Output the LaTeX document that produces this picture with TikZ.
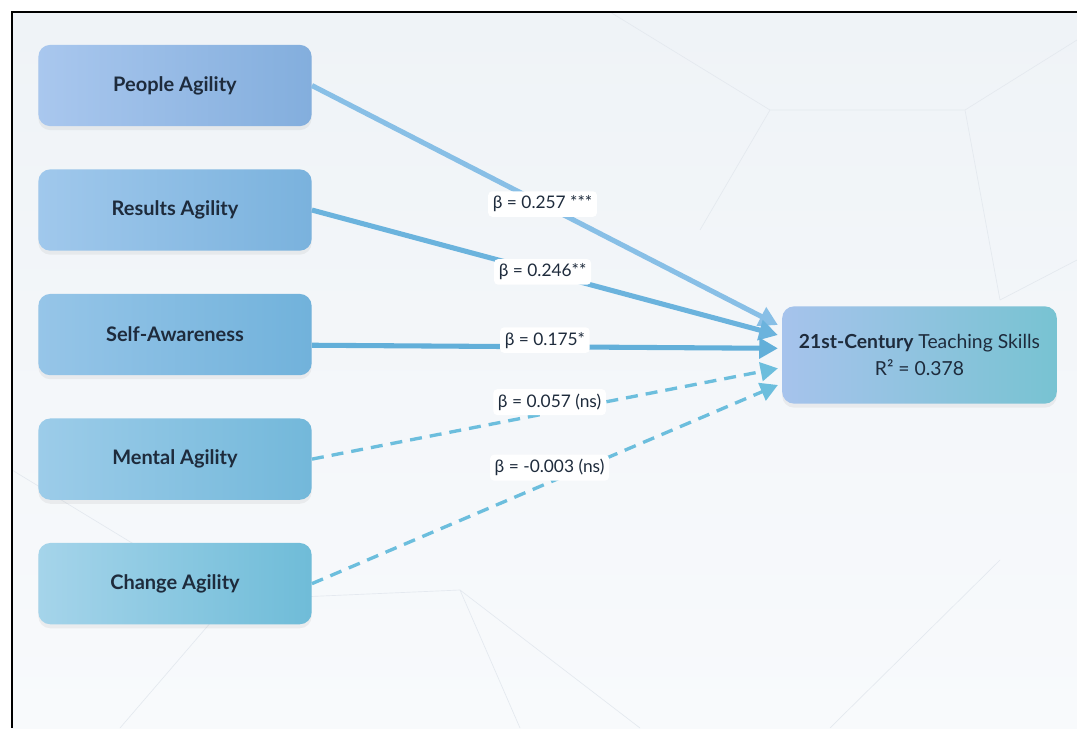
\documentclass[tikz,border=0pt]{standalone}
\usepackage{fontspec}
\setmainfont{Lato}
\usepackage{xcolor}
\usetikzlibrary{arrows.meta,calc,positioning,shadows}
\definecolor{ink}{HTML}{1E2B3C}
\definecolor{edgea}{HTML}{88BFE6}
\definecolor{edgeb}{HTML}{6BB3DD}
\definecolor{edgec}{HTML}{62AFD9}
\definecolor{edgens}{HTML}{6CBEDD}
\definecolor{faint}{HTML}{E4E9EF}
\definecolor{bgtop}{HTML}{EFF3F7}
\definecolor{bgbot}{HTML}{F8FAFC}
\definecolor{paL}{HTML}{A9C7EE}\definecolor{paR}{HTML}{83AEDD}
\definecolor{raL}{HTML}{A0C8EC}\definecolor{raR}{HTML}{7AB2DD}
\definecolor{saL}{HTML}{96C5E8}\definecolor{saR}{HTML}{71B2DB}
\definecolor{maL}{HTML}{9CCCE9}\definecolor{maR}{HTML}{73B8DA}
\definecolor{caL}{HTML}{A5D4EA}\definecolor{caR}{HTML}{6FBCD8}
\definecolor{tgL}{HTML}{A6C3EC}\definecolor{tgR}{HTML}{78C3D2}
\tikzset{%
	factor/.style  = {rectangle, rounded corners=9pt, minimum width=205pt, minimum height=61pt, text=ink,
	                  font=\fontsize{15}{17}\selectfont\bfseries,
	                  drop shadow={opacity=0.10, shadow xshift=0pt, shadow yshift=-3pt}}, % Predictor
	outcome/.style = {factor, minimum width=206pt, minimum height=73pt, align=center,
	                  font=\fontsize{14.5}{20}\selectfont}, % Outcome
	coef/.style    = {fill=white, rounded corners=3pt, inner sep=3.5pt, text=ink,
	                  font=\fontsize{13}{15}\selectfont}, % Beta label
	sig/.style     = {line width=3.8pt, -{Triangle[length=14pt,width=15pt]}}, % Significant path
	nsig/.style    = {draw=edgens, line width=2.5pt, dash pattern=on 9pt off 6pt, -{Triangle[length=13pt,width=14pt]}}, % ns path
}

\begin{document}
\begin{tikzpicture}[x=0.75pt, y=-0.75pt, node distance=93.4pt]
	\useasboundingbox (0,0) rectangle (1077,728);
	% background and frame
	\shade[top color=bgtop, bottom color=bgbot] (12,12) rectangle (1077,728);
	\draw[faint, line width=0.5pt] (610,12) -- (770,110) -- (965,110) -- (1077,40)
		(965,110) -- (1000,300) (770,110) -- (700,230) (1000,300) -- (1077,260)
		(12,470) -- (160,560) (120,728) -- (230,600) -- (460,590) -- (640,728)
		(460,590) -- (520,728) (830,728) -- (1000,560);
	\draw[black, line width=1.5pt] (12,728) -- (12,12) -- (1077,12);
	% nodes
	\node[factor, left color=paL, right color=paR] (pa) at (175,85.5) {People Agility};
	\node[factor, below of=pa, left color=raL, right color=raR] (ra) {Results Agility};
	\node[factor, below of=ra, left color=saL, right color=saR] (sa) {Self-Awareness};
	\node[factor, below of=sa, left color=maL, right color=maR] (ma) {Mental Agility};
	\node[factor, below of=ma, left color=caL, right color=caR] (ca) {Change Agility};
	\node[outcome, left color=tgL, right color=tgR] (tgt) at (919.5,355)
		{\textbf{21st-Century} Teaching Skills\\R² = 0.378};
	% paths
	\draw[sig, draw=edgea, fill=edgea] (pa.east) -- node[coef, pos=0.495] {β = 0.257 ***} ([xshift=-3pt, yshift=22.5pt]tgt.west);
	\draw[sig, draw=edgeb, fill=edgeb] (ra.east) -- node[coef, pos=0.495] {β = 0.246**} ([xshift=-3pt, yshift=15pt]tgt.west);
	\draw[sig, draw=edgec, fill=edgec] ([yshift=-8pt]sa.east) -- node[coef, pos=0.5, yshift=5pt] {β = 0.175*} ([xshift=-3pt, yshift=5pt]tgt.west);
	\draw[nsig] (ma.east) -- node[coef, pos=0.51, yshift=8pt] {β = 0.057 (ns)} ([xshift=-3pt, yshift=-10pt]tgt.west);
	\draw[nsig] (ca.east) -- node[coef, pos=0.51, yshift=11pt] {β = -0.003 (ns)} ([xshift=-3pt, yshift=-22.5pt]tgt.west);
\end{tikzpicture}
\end{document}
